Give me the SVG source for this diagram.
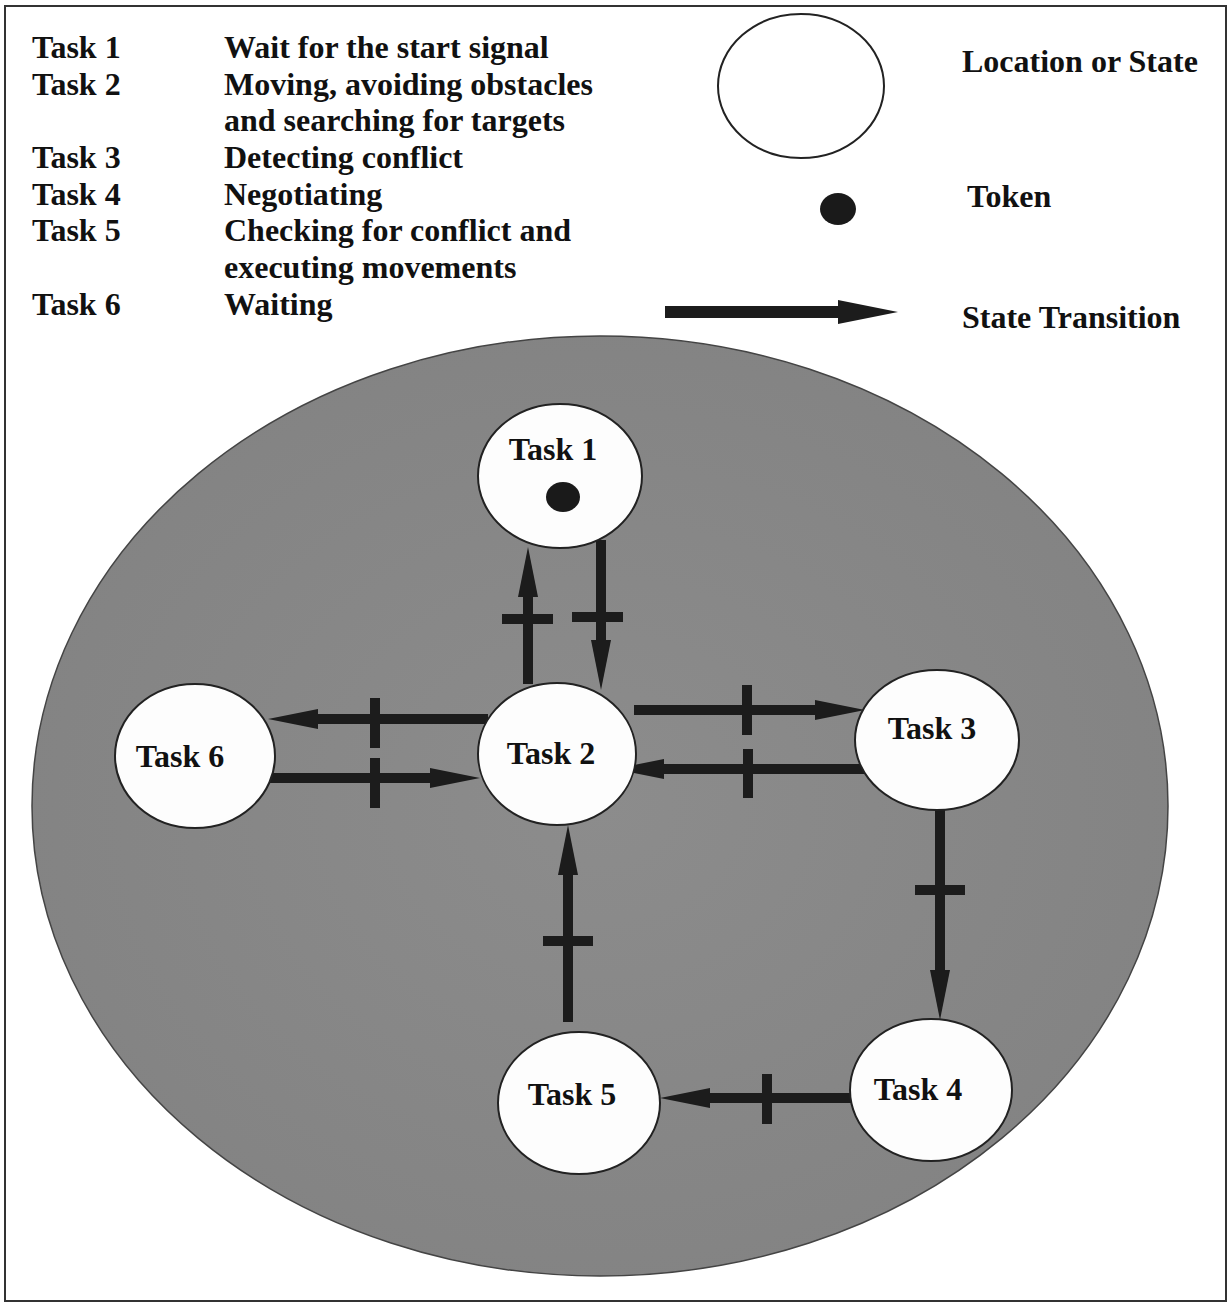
<svg xmlns="http://www.w3.org/2000/svg" width="1231" height="1305" viewBox="0 0 1231 1305">
<defs>
<marker id="ah" viewBox="0 0 5 2" refX="0" refY="1" markerWidth="5" markerHeight="2" markerUnits="strokeWidth" orient="auto">
<path d="M0,0 L5,1 L0,2 z" fill="#1c1c1c"/>
</marker>
<radialGradient id="bg" cx="0.5" cy="0.5" r="0.6">
<stop offset="0" stop-color="#8c8c8c"/>
<stop offset="1" stop-color="#828282"/>
</radialGradient>
</defs>
<style>
.t{font-family:"Liberation Serif","Times New Roman",serif;font-weight:bold;font-size:32px;fill:#111}
.n{font-family:"Liberation Serif","Times New Roman",serif;font-weight:bold;font-size:32px;fill:#111;text-anchor:middle}
.node{fill:#fdfdfd;stroke:#222;stroke-width:2}
.c{stroke:#1c1c1c;stroke-width:10;fill:none;marker-end:url(#ah)}
.bar{fill:#1c1c1c}
</style>
<rect x="0" y="0" width="1231" height="1305" fill="#fff"/>
<rect x="5" y="6" width="1221" height="1295" fill="none" stroke="#333" stroke-width="2"/>

<g id="legend">
<text class="t" x="32" y="58">Task 1</text>
<text class="t" x="224" y="58">Wait for the start signal</text>
<text class="t" x="32" y="95">Task 2</text>
<text class="t" x="224" y="95">Moving, avoiding obstacles</text>
<text class="t" x="224" y="131">and searching for targets</text>
<text class="t" x="32" y="168">Task 3</text>
<text class="t" x="224" y="168">Detecting conflict</text>
<text class="t" x="32" y="205">Task 4</text>
<text class="t" x="224" y="205">Negotiating</text>
<text class="t" x="32" y="241">Task 5</text>
<text class="t" x="224" y="241">Checking for conflict and</text>
<text class="t" x="224" y="278">executing movements</text>
<text class="t" x="32" y="315">Task 6</text>
<text class="t" x="224" y="315">Waiting</text>
<ellipse cx="801" cy="86" rx="83" ry="72" fill="#fff" stroke="#222" stroke-width="2"/>
<text class="t" x="962" y="72">Location or State</text>
<ellipse cx="838" cy="209" rx="18" ry="16" fill="#1a1a1a"/>
<text class="t" x="967" y="207">Token</text>
<line x1="665" y1="312" x2="838" y2="312" stroke="#1c1c1c" stroke-width="12" marker-end="url(#ah)"/>
<text class="t" x="962" y="328">State Transition</text>
</g>

<ellipse id="background" cx="600" cy="806" rx="568" ry="470" fill="url(#bg)" stroke="#444" stroke-width="1.5"/>

<g id="connectors">
<line class="c" x1="528" y1="684" x2="528" y2="597"/>
<rect class="bar" x="502" y="614" width="51" height="10"/>
<line class="c" x1="601" y1="540" x2="601" y2="640"/>
<rect class="bar" x="572" y="612" width="51" height="10"/>
<line class="c" x1="488" y1="719" x2="318" y2="719"/>
<rect class="bar" x="370" y="698" width="10" height="50"/>
<line class="c" x1="270" y1="778" x2="430" y2="778"/>
<rect class="bar" x="370" y="758" width="10" height="50"/>
<line class="c" x1="634" y1="710" x2="815" y2="710"/>
<rect class="bar" x="742" y="685" width="10" height="50"/>
<line class="c" x1="866" y1="769" x2="664" y2="769"/>
<rect class="bar" x="743" y="749" width="10" height="49"/>
<line class="c" x1="940" y1="798" x2="940" y2="970"/>
<rect class="bar" x="915" y="885" width="50" height="10"/>
<line class="c" x1="852" y1="1098" x2="710" y2="1098"/>
<rect class="bar" x="762" y="1074" width="10" height="50"/>
<line class="c" x1="568" y1="1022" x2="568" y2="875"/>
<rect class="bar" x="543" y="936" width="50" height="10"/>
</g>

<g id="task1">
<ellipse class="node" cx="560" cy="476" rx="82" ry="72"/>
<text class="n" x="553" y="460">Task 1</text>
<ellipse cx="563" cy="497" rx="17" ry="15" fill="#1a1a1a"/>
</g>
<g id="task2">
<ellipse class="node" cx="557" cy="754" rx="79" ry="71"/>
<text class="n" x="551" y="764">Task 2</text>
</g>
<g id="task3">
<ellipse class="node" cx="937" cy="740" rx="82" ry="70"/>
<text class="n" x="932" y="739">Task 3</text>
</g>
<g id="task4">
<ellipse class="node" cx="931" cy="1090" rx="81" ry="71"/>
<text class="n" x="918" y="1100">Task 4</text>
</g>
<g id="task5">
<ellipse class="node" cx="579" cy="1103" rx="81" ry="71"/>
<text class="n" x="572" y="1105">Task 5</text>
</g>
<g id="task6">
<ellipse class="node" cx="195" cy="756" rx="80" ry="72"/>
<text class="n" x="180" y="767">Task 6</text>
</g>
</svg>
